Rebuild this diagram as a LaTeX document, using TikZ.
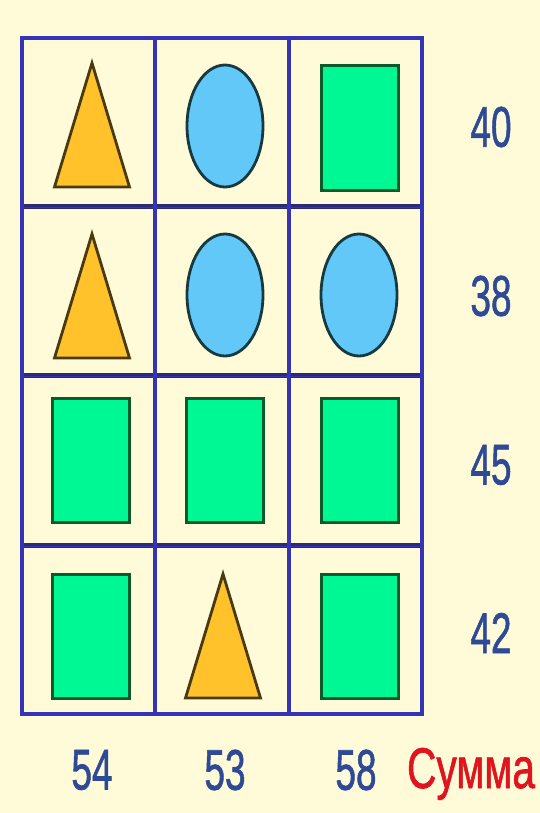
\documentclass[tikz,border=0pt]{standalone}
\usepackage{fontspec}
\setmainfont{Liberation Sans}
\newfontfamily\numfont[FakeBold=1.3]{Liberation Sans}
\definecolor{bg}{HTML}{FFFBD8}
\definecolor{gridblue}{HTML}{3434B4}
\definecolor{griddark}{HTML}{2A2A78}
\definecolor{trifill}{HTML}{FFC22A}
\definecolor{triline}{HTML}{4A3A12}
\definecolor{circfill}{HTML}{62C8F8}
\definecolor{circline}{HTML}{163A40}
\definecolor{sqfill}{HTML}{00F894}
\definecolor{sqline}{HTML}{0B5A2C}
\definecolor{numblue}{HTML}{2E4A96}
\definecolor{sumred}{HTML}{E0141E}
\tikzset{
  tri/.style={fill=trifill, draw=triline, line width=2.8pt, line join=miter},
  circ/.style={fill=circfill, draw=circline, line width=2.8pt},
  sq/.style={fill=sqfill, draw=sqline, line width=3pt},
  gridline/.style={draw=gridblue, line width=3.5pt},
  innerline/.style={draw=griddark, line width=5pt},
  num/.style={text=numblue, font=\numfont\fontsize{37}{40}\selectfont, inner sep=0pt},
  sumlabel/.style={text=sumred, font=\numfont\fontsize{37}{40}\selectfont, inner sep=0pt},
}
\newcommand\tri[2]{\draw[tri] (#1,#2) -- (#1+37.5,#2+124) -- (#1-37.5,#2+124) -- cycle;}
\newcommand\circshape[2]{\draw[circ] (#1,#2) ellipse [x radius=38, y radius=61];}
\newcommand\sqshape[2]{\draw[sq] (#1,#2) rectangle (#1+77,#2+124);}
\begin{document}
\begin{tikzpicture}[x=1pt,y=-1pt]
\fill[bg] (0,0) rectangle (540,813);
\useasboundingbox (0,0) rectangle (540,813);
% inner horizontal lines
\foreach \yy in {206,375,545} \draw[innerline] (22,\yy) -- (422,\yy);
\foreach \yy in {206,375,545} \draw[draw=gridblue, line width=1.5pt] (22,\yy+1.5) -- (422,\yy+1.5);
% vertical lines
\foreach \xx in {155,289} \draw[gridline] (\xx,38) -- (\xx,714);
% outer frame
\draw[gridline] (22,38) rectangle (422,714);
% row 1
\tri{92}{63}
\circshape{225}{126}
\sqshape{321}{66}
% row 2
\tri{92}{234}
\circshape{225}{295}
\circshape{359}{295}
% row 3
\sqshape{52}{398}
\sqshape{186}{398}
\sqshape{321}{398}
% row 4
\sqshape{52}{574}
\tri{223}{574}
\sqshape{321}{574}
% row sums
\node[num] (r1) at (491,127) {\scalebox{1}[1.55]{40}};
\node[num] (r2) at (491,296) {\scalebox{1}[1.55]{38}};
\node[num] (r3) at (491,465) {\scalebox{1}[1.55]{45}};
\node[num] (r4) at (491,633) {\scalebox{1}[1.55]{42}};
% column sums
\node[num] (c1) at (92,770) {\scalebox{1}[1.55]{54}};
\node[num] (c2) at (225,770) {\scalebox{1}[1.55]{53}};
\node[num] (c3) at (356,770) {\scalebox{1}[1.55]{58}};
\node[sumlabel, anchor=base] (sum) at (471,788) {\scalebox{1.1}[1.55]{Сумма}};
\end{tikzpicture}
\end{document}
